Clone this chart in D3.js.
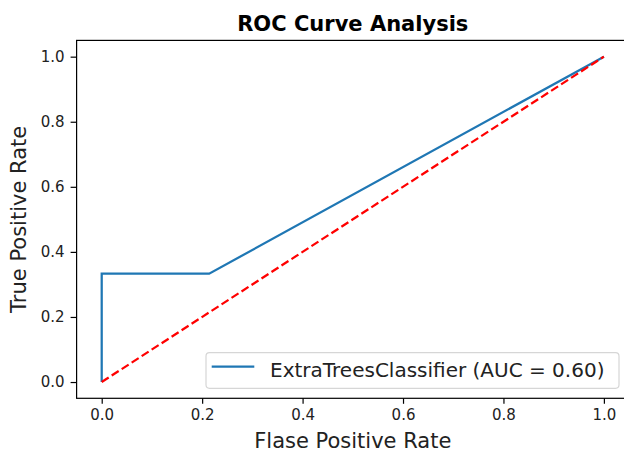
<!DOCTYPE html>
<html>
<head>
<meta charset="utf-8">
<script src="https://cdn.jsdelivr.net/npm/d3@7"></script>
<style>
  body { margin: 0; background: #fff; }
  text { font-family: "DejaVu Sans", sans-serif; }
</style>
</head>
<body>
<div id="chart"></div>
<script>
// roc points
var fpr = [0, 0, 0.214, 1];
var tpr = [0, 0.333, 0.333, 1];
var chanceX = [0, 1];
var chanceY = [0, 1];
var ticks = [0, 0.2, 0.4, 0.6, 0.8, 1.0];
var legendLabel = "ExtraTreesClassifier (AUC = 0.60)";

var W = 624, H = 452;
var axL = 76.6, axR = 629, axT = 40.4, axB = 398.3;

var svg = d3.select("#chart").append("svg").attr("width", W).attr("height", H);

var x = d3.scaleLinear().domain([-0.05, 1.05]).range([axL, axR]);
var y = d3.scaleLinear().domain([-0.05, 1.05]).range([axB, axT]);

var line = d3.line().x(function(d){return x(d[0]);}).y(function(d){return y(d[1]);});

// curves
svg.append("path")
    .datum(d3.zip(fpr, tpr))
    .attr("d", line)
    .attr("fill", "none")
    .attr("stroke", "#1f77b4")
    .attr("stroke-width", 2.25)
    .attr("stroke-linejoin", "miter");

svg.append("path")
    .datum(d3.zip(chanceX, chanceY))
    .attr("d", line)
    .attr("fill", "none")
    .attr("stroke", "red")
    .attr("stroke-width", 2.25)
    .attr("stroke-dasharray", "8.3,3.6");

// axes
var fmt = d3.format(".1f");
var gx = svg.append("g").attr("transform", "translate(0," + axB + ")")
    .call(d3.axisBottom(x).tickValues(ticks).tickFormat(fmt).tickSize(5.5).tickPadding(5.5).tickSizeOuter(0));
var gy = svg.append("g").attr("transform", "translate(" + axL + ",0)")
    .call(d3.axisLeft(y).tickValues(ticks).tickFormat(fmt).tickSize(6).tickPadding(6).tickSizeOuter(0));

[gx, gy].forEach(function(g){
    g.select(".domain").remove();
    g.selectAll(".tick line").attr("stroke", "#000").attr("stroke-width", 1.2);
    g.selectAll(".tick text").attr("font-size", 15).attr("fill", "#222").style("font-family", "DejaVu Sans");
});

// spines
svg.append("rect")
    .attr("x", axL).attr("y", axT)
    .attr("width", axR - axL).attr("height", axB - axT)
    .attr("fill", "none").attr("stroke", "#000").attr("stroke-width", 1.2);

// legend
var lg = svg.append("g");
lg.append("rect")
    .attr("x", 206).attr("y", 352.7).attr("width", 413).attr("height", 35.6)
    .attr("rx", 3.5).attr("fill", "#fff").attr("fill-opacity", 0.8)
    .attr("stroke", "#d6d6d6").attr("stroke-width", 1.2);
lg.append("line")
    .attr("x1", 211.7).attr("x2", 254.3).attr("y1", 366.7).attr("y2", 366.7)
    .attr("stroke", "#1f77b4").attr("stroke-width", 2.25);
lg.append("text")
    .attr("x", 270).attr("y", 377)
    .attr("font-size", 20).attr("fill", "#222")
    .text(legendLabel);

// titles
svg.append("text")
    .attr("x", (axL + axR) / 2).attr("y", 31)
    .attr("text-anchor", "middle")
    .attr("font-size", 21).attr("font-weight", "bold")
    .text("ROC Curve Analysis");

svg.append("text")
    .attr("x", (axL + axR) / 2).attr("y", 448)
    .attr("text-anchor", "middle")
    .attr("font-size", 21).attr("fill", "#222")
    .text("Flase Positive Rate");

svg.append("text")
    .attr("transform", "translate(26," + (axT + axB) / 2 + ") rotate(-90)")
    .attr("text-anchor", "middle")
    .attr("font-size", 21).attr("fill", "#222")
    .text("True Positive Rate");
</script>
</body>
</html>
